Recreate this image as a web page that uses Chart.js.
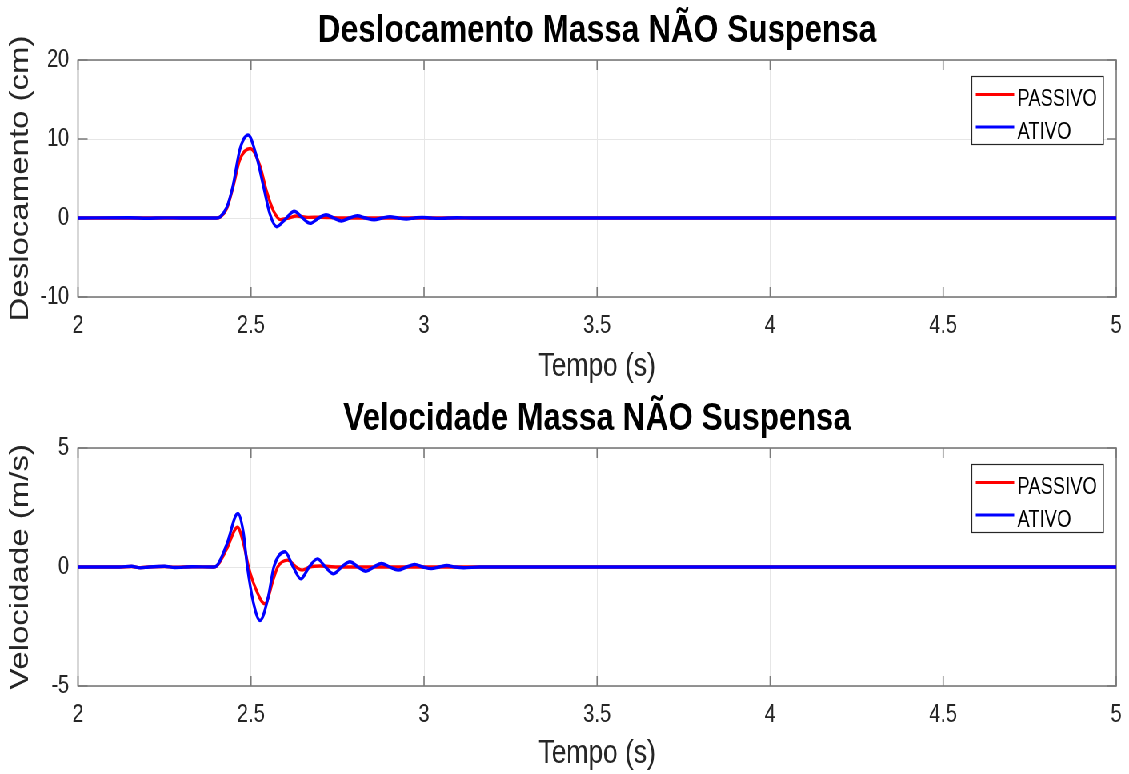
<!DOCTYPE html>
<html><head><meta charset="utf-8">
<script src="https://cdn.jsdelivr.net/npm/chart.js@4/dist/chart.umd.min.js"></script>
<style>
html,body{margin:0;background:#fff;width:1129px;height:774px;overflow:hidden}
#wrap{position:absolute;left:0;top:0;width:1411px;height:774px;transform:scaleX(0.80014);transform-origin:0 0}
.c{position:absolute;left:0;width:1411px;height:387px}
</style></head><body>
<div id="wrap">
<div class="c" style="top:0"><canvas id="c1" width="1411" height="387"></canvas></div>
<div class="c" style="top:387px"><canvas id="c2" width="1411" height="387"></canvas></div>
</div>
<script>
// ---- data ----
const xTicks = [2, 2.5, 3, 3.5, 4, 4.5, 5];
const xTickLabels = ['2', '2.5', '3', '3.5', '4', '4.5', '5'];
const yTicksDesl = [-10, 0, 10, 20];
const yTicksVel = [-5, 0, 5];
const seriesLabels = ['PASSIVO', 'ATIVO'];
const titles = ['Deslocamento Massa NÃO Suspensa', 'Velocidade Massa NÃO Suspensa'];
const yTitles = ['Deslocamento (cm)', 'Velocidade (m/s)'];
const xTitle = 'Tempo (s)';

const tPassivoDesl = [2.0, 2.40, 2.411, 2.43, 2.4475, 2.468, 2.4975, 2.526, 2.545, 2.565, 2.585, 2.605, 2.632, 2.665, 2.70, 2.75, 2.80, 5.0];
const passivoDesl  = [0,   0,    0.12,  1.2,  3.8,    7.4,   8.8,    6.6,   3.4,   0.9,   -0.2,  -0.05, 0.25,  0.08,  0.1,  0.02, 0,    0];

const tAtivoDesl = [2.0, 2.15, 2.2, 2.25, 2.30, 2.40, 2.411, 2.43, 2.4475, 2.468, 2.4916, 2.516, 2.536, 2.555, 2.574, 2.60, 2.625, 2.648, 2.671, 2.694, 2.717, 2.739, 2.761, 2.784, 2.807, 2.831, 2.856, 2.879, 2.902, 2.925, 2.949, 2.972, 2.995, 3.02, 3.045, 3.07, 3.095, 3.14, 3.2, 5.0];
const ativoDesl  = [0,   0.03, -0.03, 0.02, 0,  0,    0.15,  1.35, 4.0,    8.7,   10.5,   7.8,   4.0,   0.45,  -1.1,  -0.1, 0.85,  0.05,  -0.68, -0.05, 0.42,  0,     -0.38, 0,     0.28,  0,     -0.22, 0,     0.15,  0,     -0.12, 0,     0.08,  0,    -0.05, 0,    0.03,  0,    0,   0];

const tPassivoVel = [2.0, 2.12, 2.155, 2.18, 2.205, 2.25, 2.28, 2.33, 2.39, 2.40, 2.43, 2.461, 2.478, 2.493, 2.512, 2.54, 2.565, 2.577, 2.606, 2.63, 2.648, 2.67, 2.70, 2.75, 5.0];
const passivoVel  = [0,   0,    0.02,  -0.025, 0,   0.02, -0.01, 0.01, 0,   0.03, 0.76, 1.67,  1.0,   0,     -0.85, -1.55, -0.5, 0,     0.29,  0,    -0.13, 0,    0.04, 0,    0];

const tAtivoVel = [2.0, 2.12, 2.155, 2.18, 2.205, 2.25, 2.28, 2.33, 2.39, 2.40, 2.43, 2.462, 2.478, 2.489, 2.507, 2.526, 2.550, 2.566, 2.598, 2.622, 2.644, 2.668, 2.692, 2.715, 2.738, 2.762, 2.786, 2.809, 2.832, 2.855, 2.877, 2.901, 2.925, 2.949, 2.973, 2.997, 3.021, 3.044, 3.066, 3.09, 3.115, 3.16, 3.22, 5.0];
const ativoVel  = [0,   0,    0.03,  -0.035, 0,   0.03, -0.02, 0.01, 0,   0.04, 0.95, 2.25,  1.45,  0.05,  -1.5,  -2.25, -1.25, 0,     0.64,  0,     -0.5,  0,     0.34,  0,     -0.29, 0,     0.22,  0,     -0.18, 0,     0.15,  0,     -0.13, 0,     0.11,  0,     -0.07, 0,     0.06,  0,    -0.03, 0,    0,    0];

// ---- styling ----
const FONT = '"Liberation Sans", Arial, Helvetica, sans-serif';
const RED = '#ff0000', BLUE = '#0000ff';

const pts = (t, v) => t.map((x, i) => ({x: x, y: v[i]}));

const framePlugin = {
  id: 'frame',
  beforeDatasetsDraw(chart, args, opts) {
    const {ctx, chartArea: a, scales} = chart;
    ctx.save();
    ctx.strokeStyle = '#7a7a7a';
    ctx.lineWidth = 1.6;
    ctx.beginPath();
    opts.xTicks.forEach(v => {
      const x = scales.x.getPixelForValue(v);
      ctx.moveTo(x, a.bottom); ctx.lineTo(x, a.bottom - 10);
      ctx.moveTo(x, a.top); ctx.lineTo(x, a.top + 10);
    });
    opts.yTicks.forEach(v => {
      const y = scales.y.getPixelForValue(v);
      ctx.moveTo(a.left, y); ctx.lineTo(a.left + 12, y);
      ctx.moveTo(a.right, y); ctx.lineTo(a.right - 12, y);
    });
    ctx.stroke();
    ctx.strokeRect(a.left, a.top, a.right - a.left, a.bottom - a.top);
    ctx.restore();
  },
  afterDatasetsDraw(chart, args, opts) {
    const {ctx, chartArea: a} = chart;
    const bx = a.right - 180.5, by = a.top + 16, bw = 164.5, bh = 68;
    ctx.save();
    ctx.fillStyle = '#fff';
    ctx.fillRect(bx, by, bw, bh);
    ctx.strokeStyle = '#262626';
    ctx.lineWidth = 1.2;
    ctx.strokeRect(bx, by + 0.5, bw, bh);
    const rows = [34.5, 67];
    ctx.font = '23px ' + FONT;
    ctx.textAlign = 'left';
    ctx.textBaseline = 'alphabetic';
    chart.data.datasets.forEach((d, i) => {
      const ly = a.top + rows[i];
      ctx.strokeStyle = d.borderColor;
      ctx.lineWidth = 3;
      ctx.beginPath();
      ctx.moveTo(bx + 5, ly); ctx.lineTo(bx + 53, ly);
      ctx.stroke();
      ctx.fillStyle = '#000';
      ctx.fillText(d.label, bx + 57, ly + 11.5);
    });
    ctx.restore();
  },
  afterDraw(chart, args, opts) {
    const {ctx, chartArea: a} = chart;
    ctx.save();
    ctx.font = 'bold 39.5px ' + FONT;
    ctx.fillStyle = '#000';
    ctx.textAlign = 'center';
    ctx.textBaseline = 'alphabetic';
    ctx.fillText(opts.title, (a.left + a.right) / 2, opts.titleY);
    ctx.restore();
  }
};

function makeChart(id, pData, aData, yMin, yMax, yTicks, title, titleY, yTitle, padTop, xHeight) {
  return new Chart(document.getElementById(id), {
    type: 'scatter',
    data: {
      datasets: [
        {label: seriesLabels[0], data: pData, borderColor: RED, backgroundColor: RED, order: 1},
        {label: seriesLabels[1], data: aData, borderColor: BLUE, backgroundColor: BLUE, order: 0}
      ]
    },
    options: {
      responsive: false,
      animation: false,
      events: [],
      devicePixelRatio: 1,
      layout: {padding: {top: padTop, right: 16, left: 0, bottom: 0}},
      elements: {
        point: {radius: 0},
        line: {borderWidth: 3.4, cubicInterpolationMode: 'monotone', fill: false}
      },
      datasets: {scatter: {showLine: true}},
      plugins: {
        legend: {display: false},
        tooltip: {enabled: false},
        title: {display: false},
        frame: {title: title, titleY: titleY, xTicks: xTicks, yTicks: yTicks}
      },
      scales: {
        x: {
          type: 'linear', min: 2, max: 5,
          afterBuildTicks: s => { s.ticks = xTicks.map(v => ({value: v})); },
          afterFit: s => { s.height = xHeight; s.paddingLeft = 0; s.paddingRight = 0; },
          ticks: {font: {family: FONT, size: 25}, color: '#262626', padding: 14, maxRotation: 0, autoSkip: false,
                  callback: (v, i) => xTickLabels[i]},
          grid: {color: '#e6e6e6', lineWidth: 1, drawTicks: false},
          border: {display: false},
          title: {display: true, text: xTitle, font: {family: FONT, size: 33}, color: '#262626', padding: {top: 0, bottom: 0}}
        },
        y: {
          type: 'linear', min: yMin, max: yMax,
          afterBuildTicks: s => { s.ticks = yTicks.map(v => ({value: v})); },
          afterFit: s => { s.width = 97.5; s.paddingTop = 0; s.paddingBottom = 0; },
          ticks: {font: {family: FONT, size: 25}, color: '#262626', padding: 11, autoSkip: false},
          grid: {color: '#e6e6e6', lineWidth: 1, drawTicks: false},
          border: {display: false},
          title: {display: true, text: yTitle, font: {family: FONT, size: 33}, color: '#262626', padding: {top: 6, bottom: 0}}
        }
      }
    },
    plugins: [framePlugin]
  });
}

makeChart('c1', pts(tPassivoDesl, passivoDesl), pts(tAtivoDesl, ativoDesl), -10, 20, yTicksDesl, titles[0], 42, yTitles[0], 60, 90);
makeChart('c2', pts(tPassivoVel, passivoVel), pts(tAtivoVel, ativoVel), -5, 5, yTicksVel, titles[1], 43, yTitles[1], 61, 88);
</script>
</body></html>
